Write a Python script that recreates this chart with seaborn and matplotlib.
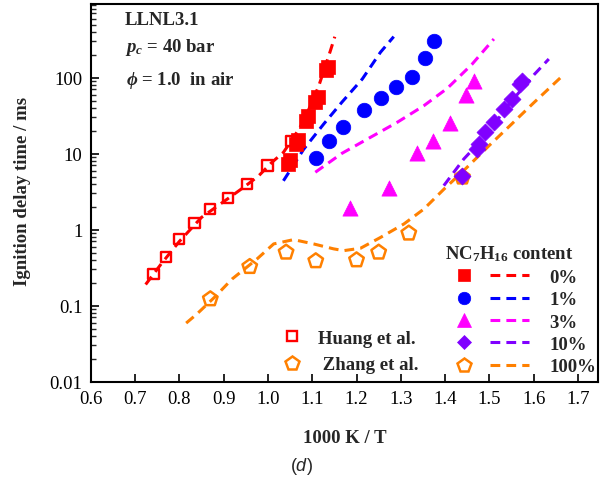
import numpy as np
import matplotlib
matplotlib.use("Agg")
import matplotlib.pyplot as plt
from matplotlib.lines import Line2D
from matplotlib.legend_handler import HandlerTuple
from matplotlib.ticker import LogLocator, NullFormatter, FixedLocator, FixedFormatter
import seaborn as sns

# ---- experimental ignition delay times (1000 K / T, ms) ----
huang_x = [0.742, 0.770, 0.800, 0.834, 0.870, 0.910, 0.953, 0.999, 1.052]
huang_y = [0.26, 0.44, 0.75, 1.22, 1.87, 2.64, 4.0, 7.0, 14.8]

zhang_x = [0.870, 0.959, 1.041, 1.108, 1.200, 1.250, 1.318, 1.439]
zhang_y = [0.1225, 0.326, 0.504, 0.388, 0.399, 0.504, 0.897, 4.9]

exp0_x = [1.045, 1.049, 1.064, 1.068, 1.085, 1.090, 1.107, 1.112, 1.131, 1.136]
exp0_y = [7.4, 8.3, 13.5, 15.0, 27.0, 31.0, 48.0, 55.0, 125.0, 140.0]

exp1_x = [1.109, 1.139, 1.170, 1.218, 1.256, 1.289, 1.326, 1.354, 1.374]
exp1_y = [8.7, 14.8, 22.7, 37.6, 54.0, 76.0, 101.0, 180.0, 301.0]

exp3_x = [1.186, 1.274, 1.337, 1.372, 1.412, 1.446, 1.465]
exp3_y = [1.91, 3.59, 10.1, 14.8, 25.3, 59.0, 91.0]

exp10_x = [1.439, 1.473, 1.476, 1.491, 1.510, 1.533, 1.552, 1.570, 1.574]
exp10_y = [5.1, 11.5, 13.4, 19.1, 25.9, 38.7, 52.5, 82.0, 91.0]

# ---- LLNL3.1 model predictions ----
mod0_x = [0.724, 0.76, 0.80, 0.85, 0.919, 0.945, 0.979, 1.009, 1.035, 1.058, 1.077, 1.096, 1.115, 1.141, 1.151]
mod0_y = [0.19, 0.36, 0.70, 1.45, 2.8, 3.6, 5.1, 7.7, 10.4, 16.4, 24.6, 42.8, 78.5, 226.0, 346.0]

mod1_x = [1.035, 1.081, 1.126, 1.167, 1.213, 1.254, 1.284]
mod1_y = [4.4, 11.5, 24.6, 47.6, 96.0, 216.0, 347.0]

mod3_x = [1.107, 1.167, 1.228, 1.292, 1.352, 1.405, 1.461, 1.510]
mod3_y = [5.7, 10.1, 16.0, 25.9, 42.8, 72.5, 151.0, 323.0]

mod10_x = [1.397, 1.442, 1.500, 1.537, 1.601, 1.634]
mod10_y = [3.8, 8.5, 19.5, 40.0, 110.0, 176.0]

mod100_x = [0.8155, 0.84, 0.88, 0.919, 0.975, 1.013, 1.058, 1.103, 1.148, 1.171,
            1.209, 1.254, 1.307, 1.352, 1.397, 1.442, 1.50, 1.55, 1.60, 1.665]
mod100_y = [0.059, 0.078, 0.13, 0.224, 0.41, 0.65, 0.74, 0.65, 0.56, 0.53,
            0.57, 0.79, 1.19, 1.87, 3.4, 6.0, 12.9, 24.5, 46.8, 106.0]

content_labels = ["0%", "1%", "3%", "10%", "100%"]
xtick_vals = [0.6, 0.7, 0.8, 0.9, 1.0, 1.1, 1.2, 1.3, 1.4, 1.5, 1.6, 1.7]
xtick_labels = ["0.6", "0.7", "0.8", "0.9", "1.0", "1.1", "1.2", "1.3", "1.4", "1.5", "1.6", "1.7"]
ytick_vals = [0.01, 0.1, 1, 10, 100]
ytick_labels = ["0.01", "0.1", "1", "10", "100"]

RED, BLUE, MAG, PUR, ORA = "#FF0000", "#0000FF", "#FF00FF", "#8000FF", "#FF8000"

sns.set_theme(style="white")
plt.rcParams["font.family"] = ["Liberation Serif", "DejaVu Serif"]
plt.rcParams["mathtext.fontset"] = "custom"
plt.rcParams["mathtext.rm"] = "Liberation Serif:bold"
plt.rcParams["mathtext.bf"] = "Liberation Serif:bold"
plt.rcParams["mathtext.it"] = "Liberation Serif:italic:bold"
plt.rcParams["mathtext.sf"] = "Liberation Sans:italic"
plt.rcParams["mathtext.fallback"] = "stix"

FS = 13.5
LW = 2.2
DASH = (0, (3.2, 2.0))

fig = plt.figure(figsize=(6.05, 4.89), dpi=100)
ax = fig.add_axes([0.1499, 0.2174, 0.8385, 0.7724])

# model curves
for mx, my, c in [(mod0_x, mod0_y, RED), (mod1_x, mod1_y, BLUE), (mod3_x, mod3_y, MAG),
                  (mod10_x, mod10_y, PUR), (mod100_x, mod100_y, ORA)]:
    sns.lineplot(x=mx, y=my, color=c, linewidth=LW, linestyle=DASH, ax=ax,
                 estimator=None, sort=False, legend=False, zorder=2)

# open symbols: literature data
sns.scatterplot(x=huang_x, y=huang_y, marker="s", s=55, color=RED, facecolor="none",
                edgecolor=RED, linewidth=1.7, ax=ax, legend=False, zorder=3)
sns.scatterplot(x=zhang_x, y=zhang_y, marker="p", s=120, color=ORA, facecolor="none",
                edgecolor=ORA, linewidth=1.8, ax=ax, legend=False, zorder=3)

# filled symbols: blends
sns.scatterplot(x=exp0_x, y=exp0_y, marker="s", s=90, color=RED, edgecolor=RED,
                linewidth=0.5, ax=ax, legend=False, zorder=3)
sns.scatterplot(x=exp1_x, y=exp1_y, marker="o", s=110, color=BLUE, edgecolor=BLUE,
                linewidth=0.5, ax=ax, legend=False, zorder=3)
sns.scatterplot(x=exp3_x, y=exp3_y, marker="^", s=120, color=MAG, edgecolor=MAG,
                linewidth=0.5, ax=ax, legend=False, zorder=3)
sns.scatterplot(x=exp10_x, y=exp10_y, marker="D", s=75, color=PUR, edgecolor=PUR,
                linewidth=0.5, ax=ax, legend=False, zorder=3)

ax.set_yscale("log")
ax.set_xlim(0.6, 1.745)
ax.set_ylim(0.01, 933)

ax.xaxis.set_major_locator(FixedLocator(xtick_vals))
ax.xaxis.set_major_formatter(FixedFormatter(xtick_labels))
ax.yaxis.set_major_locator(FixedLocator(ytick_vals))
ax.yaxis.set_major_formatter(FixedFormatter(ytick_labels))
ax.yaxis.set_minor_locator(LogLocator(base=10, subs=np.arange(2, 10)))
ax.yaxis.set_minor_formatter(NullFormatter())

ax.tick_params(axis="both", which="major", direction="in", length=6, width=1.2,
               labelsize=FS, colors="black", pad=6)
ax.tick_params(axis="y", which="minor", direction="in", length=3.5, width=1.0, left=True)
ax.tick_params(axis="x", which="both", bottom=True, top=False)
ax.tick_params(axis="y", which="both", left=True, right=False)
for sp in ax.spines.values():
    sp.set_visible(True)
    sp.set_color("black")
    sp.set_linewidth(1.5)
ax.grid(False)
ax.set_facecolor("white")

ax.set_xlabel("1000 K / T", fontsize=FS, fontweight="bold")
ax.set_ylabel("Ignition delay time / ms", fontsize=FS, fontweight="bold")
ax.xaxis.set_label_coords(0.5, -0.125)
ax.yaxis.set_label_coords(-0.118, 0.5075)

# condition annotations
ax.text(0.0676, 0.947, "LLNL3.1", transform=ax.transAxes, fontsize=FS,
        fontweight="bold", va="baseline")
ax.text(0.0676, 0.8756, r"$p_c$ = 40 bar", transform=ax.transAxes, fontsize=FS,
        fontweight="bold", va="baseline")
ax.text(0.070, 0.7882, r"$\phi$ = 1.0  in air", transform=ax.transAxes, fontsize=FS,
        fontweight="bold", va="baseline")

# legend: literature sources
src_handles = [
    Line2D([], [], marker="s", ls="none", markersize=7.5, markerfacecolor="none",
           markeredgecolor=RED, markeredgewidth=1.7),
    Line2D([], [], marker="p", ls="none", markersize=10.5, markerfacecolor="none",
           markeredgecolor=ORA, markeredgewidth=1.8),
]
leg1 = ax.legend(src_handles, ["Huang et al.", " Zhang et al."], loc="center left",
                 bbox_to_anchor=(0.369, 0.080), frameon=False, borderpad=0,
                 borderaxespad=0, handlelength=1.5, handletextpad=0.65,
                 labelspacing=0.515, prop={"family": "Liberation Serif", "weight": "bold", "size": FS})
ax.add_artist(leg1)

# legend: n-heptane content
mk = [("s", RED, 8.0), ("o", BLUE, 9.0), ("^", MAG, 10.0), ("D", PUR, 7.5), ("p", ORA, 10.5)]
content_handles = []
for (m, c, ms) in mk:
    filled = m != "p"
    mh = Line2D([], [], marker=m, ls="none", markersize=ms,
                markerfacecolor=c if filled else "none", markeredgecolor=c,
                markeredgewidth=1.8 if not filled else 0.5)
    lh = Line2D([], [], color=c, linewidth=LW, linestyle=DASH)
    content_handles.append((mh, lh))
leg2 = ax.legend(content_handles, content_labels, loc="upper left",
                 bbox_to_anchor=(0.698, 0.366), frameon=False, borderpad=0,
                 borderaxespad=0, handlelength=4.5, handletextpad=1.07,
                 labelspacing=0.285, alignment="left",
                 title=r"NC$_7$H$_{16}$ content",
                 title_fontproperties={"family": "Liberation Serif", "weight": "bold", "size": FS},
                 handler_map={tuple: HandlerTuple(ndivide=None, pad=0.37)},
                 prop={"family": "Liberation Serif", "weight": "bold", "size": FS})

# panel caption
fig.text(0.499, 0.045, r"($\mathsf{d}$)", fontsize=13, family="Liberation Sans",
         ha="center", va="center")

fig.savefig("out.png", dpi=100, facecolor="white")
